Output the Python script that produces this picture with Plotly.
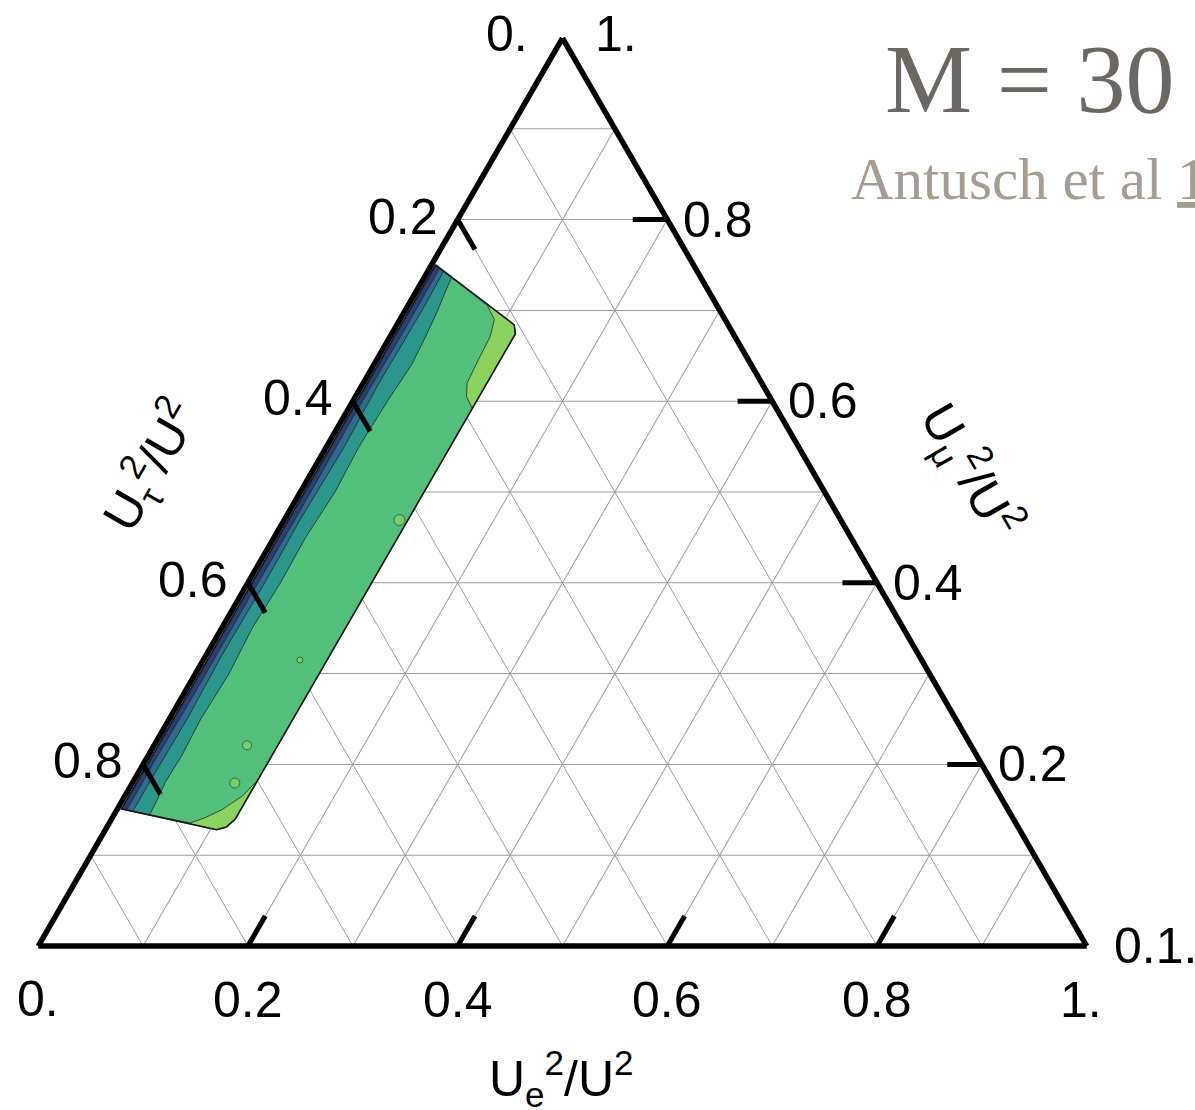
import math
import plotly.graph_objects as go

# ---------------------------------------------------------------------------
# Allowed region in the (U_mu^2, U_tau^2, U_e^2)/U^2 simplex.
# Every boundary is listed as (mu, e) points; tau = 1 - mu - e.
# ---------------------------------------------------------------------------

# full outline of the region (outermost band, light green)
region_mu = [0.750, 0.689, 0.684, 0.674, 0.140, 0.131, 0.128, 0.151]
region_e = [0.004, 0.104, 0.112, 0.118, 0.118, 0.114, 0.106, 0.004]

# shared left side of every band (runs along the U_e = 0 edge)
left_mu = [0.151, 0.750]
left_e = [0.004, 0.004]

# right-hand boundaries of the inner bands, top edge -> bottom edge
green_mu = [0.706, 0.690, 0.671, 0.645, 0.620, 0.605, 0.592, 0.183, 0.165, 0.150, 0.141, 0.1355]
green_e = [0.075, 0.090, 0.0955, 0.097, 0.099, 0.106, 0.118, 0.118, 0.112, 0.100, 0.088, 0.077]

teal_mu = [0.7366, 0.720, 0.700, 0.670, 0.640, 0.600, 0.550, 0.500, 0.450, 0.400,
           0.350, 0.300, 0.250, 0.210, 0.180, 0.160, 0.1442]
teal_e = [0.026, 0.028, 0.031, 0.034, 0.036, 0.033, 0.031, 0.033, 0.030, 0.031,
          0.029, 0.032, 0.030, 0.032, 0.031, 0.033, 0.034]

blue_mu = [0.7433, 0.700, 0.620, 0.550, 0.470, 0.400, 0.320, 0.250, 0.190, 0.1483]
blue_e = [0.015, 0.016, 0.015, 0.017, 0.015, 0.016, 0.015, 0.017, 0.016, 0.016]

navy_mu = [0.7463, 0.680, 0.580, 0.480, 0.380, 0.280, 0.200, 0.1497]
navy_e = [0.0095, 0.010, 0.009, 0.010, 0.0095, 0.010, 0.009, 0.0095]

# small light-green islands inside the main band
island_mu = [0.469, 0.315, 0.221, 0.1795]
island_e = [0.110, 0.092, 0.0886, 0.0977]
island_size = [11, 6, 9, 10]

# axis tick values and their printed labels
tick_vals = [0.2, 0.4, 0.6, 0.8]
tick_text = ["0.2", "0.4", "0.6", "0.8"]
grid_vals = [0.1, 0.2, 0.3, 0.4, 0.5, 0.6, 0.7, 0.8, 0.9]

band_colors = {
    "light": "#8ad35e",
    "green": "#52bf7b",
    "teal": "#2a968c",
    "blue": "#2e6b8f",
    "navy": "#2b3f74",
}
EDGE = "#262626"

# ---------------------------------------------------------------------------
# page geometry
# ---------------------------------------------------------------------------
FIG_W, FIG_H = 1195, 1110
M_L, M_R, M_T, M_B = 0, 70, 38, 164
PLOT_W = FIG_W - M_L - M_R
PLOT_H = FIG_H - M_T - M_B
SIDE = min(PLOT_W, PLOT_H * 2 / math.sqrt(3))
TRI_H = SIDE * math.sqrt(3) / 2
X0 = M_L + PLOT_W / 2 - SIDE / 2
Y_TOP = M_T + PLOT_H / 2 - TRI_H / 2


def px_to_paper(px, py):
    return (px - M_L) / PLOT_W, 1 - (py - M_T) / PLOT_H


def tern_to_paper(mu, e):
    px = X0 + SIDE * (e + mu / 2)
    py = Y_TOP + TRI_H * (1 - mu)
    return px_to_paper(px, py)


def tau_of(mu, e):
    return [1 - m - c for m, c in zip(mu, e)]


fig = go.Figure()


def add_band(mu, e, color, width=1.0):
    fig.add_trace(go.Scatterternary(
        a=mu, b=tau_of(mu, e), c=e,
        mode="lines", fill="toself", fillcolor=color,
        line=dict(color=EDGE, width=width),
        hoverinfo="skip", showlegend=False,
    ))


# outermost band first, inner bands painted over it
add_band(region_mu + region_mu[:1], region_e + region_e[:1], band_colors["light"])
for mu, e, key in [(green_mu, green_e, "green"), (teal_mu, teal_e, "teal"),
                   (blue_mu, blue_e, "blue"), (navy_mu, navy_e, "navy")]:
    add_band(mu + left_mu + mu[:1], e + left_e + e[:1], band_colors[key], width=0.8)

fig.add_trace(go.Scatterternary(
    a=island_mu, b=tau_of(island_mu, island_e), c=island_e,
    mode="markers",
    marker=dict(size=island_size, color=band_colors["light"],
                line=dict(color=EDGE, width=0.8)),
    hoverinfo="skip", showlegend=False,
))

# region outline on top
fig.add_trace(go.Scatterternary(
    a=region_mu + region_mu[:1], b=tau_of(region_mu + region_mu[:1], region_e + region_e[:1]),
    c=region_e + region_e[:1],
    mode="lines", line=dict(color="#1a1a1a", width=1.6),
    hoverinfo="skip", showlegend=False,
))

# inward tick marks, each along the grid line of its own quantity
TICK_LEN = 0.033
ta, tb, tc = [], [], []
for t in tick_vals:
    # U_tau ticks on the left edge
    ta += [1 - t, 1 - t - TICK_LEN, None]
    tb += [t, t, None]
    tc += [0, TICK_LEN, None]
    # U_e ticks on the bottom edge
    ta += [0, TICK_LEN, None]
    tb += [1 - t, 1 - t - TICK_LEN, None]
    tc += [t, t, None]
    # U_mu ticks on the right edge
    ta += [t, t, None]
    tb += [0, TICK_LEN, None]
    tc += [1 - t, 1 - t - TICK_LEN, None]
fig.add_trace(go.Scatterternary(
    a=ta, b=tb, c=tc, mode="lines",
    line=dict(color="black", width=5),
    hoverinfo="skip", showlegend=False, connectgaps=False,
))

axis_common = dict(
    min=0, tickvals=grid_vals, showticklabels=False, ticks="",
    showgrid=True, gridcolor="#9c9c9c", gridwidth=1,
    showline=True, linecolor="black", linewidth=5.5,
    title=dict(text=""),
)

fig.update_layout(
    width=FIG_W, height=FIG_H,
    margin=dict(l=M_L, r=M_R, t=M_T, b=M_B, autoexpand=False),
    paper_bgcolor="white",
    ternary=dict(
        sum=1, bgcolor="white",
        domain=dict(x=[0, 1], y=[0, 1]),
        aaxis=axis_common, baxis=axis_common, caxis=axis_common,
    ),
    showlegend=False,
)

# ---------------------------------------------------------------------------
# tick labels and axis titles
# ---------------------------------------------------------------------------
TICK_FONT = dict(family="Liberation Sans, Arial, sans-serif", size=50, color="black")
annotations = []


def label(text, xy, xanchor, yanchor="middle", xshift=0, yshift=0, font=TICK_FONT, angle=0):
    annotations.append(dict(
        text=text, x=xy[0], y=xy[1], xref="paper", yref="paper",
        xanchor=xanchor, yanchor=yanchor, xshift=xshift, yshift=yshift,
        showarrow=False, font=font, textangle=angle,
    ))


for t, s in zip(tick_vals, tick_text):
    label(s, tern_to_paper(1 - t, 0.0), "right", xshift=-18, yshift=3)   # U_tau
    label(s, tern_to_paper(0.0, t), "center", yshift=-54)              # U_e
    label(s, tern_to_paper(t, 1 - t), "left", xshift=14)                # U_mu

label("0.", tern_to_paper(1.0, 0.0), "right", xshift=-33, yshift=4)
label("1.", tern_to_paper(1.0, 0.0), "left", xshift=30, yshift=4)
label("0.", tern_to_paper(0.0, 0.0), "center", yshift=-53)
label("1.", tern_to_paper(0.0, 1.0), "center", xshift=-6, yshift=-54)
label("0.1.", tern_to_paper(0.0, 1.0), "left", xshift=25)

label("U<sub>e</sub><sup>2</sup>/U<sup>2</sup>", px_to_paper(561, 1078), "center")
label("U<sub>τ</sub><sup>2</sup>/U<sup>2</sup>", px_to_paper(150, 466), "center", angle=-60)
label("U<sub>μ</sub><sup>2</sup>/U<sup>2</sup>", px_to_paper(970, 470), "center", angle=60)

label("M = 30", px_to_paper(1176, 79), "right",
      font=dict(family="Liberation Serif, Times New Roman, serif", size=98, color="#6b6861"))
label("Antusch et al <u>1</u>", px_to_paper(849, 179), "left",
      font=dict(family="Liberation Serif, Times New Roman, serif", size=59, color="#a59d90"))

fig.update_layout(annotations=annotations)

fig.write_html("out.html")
